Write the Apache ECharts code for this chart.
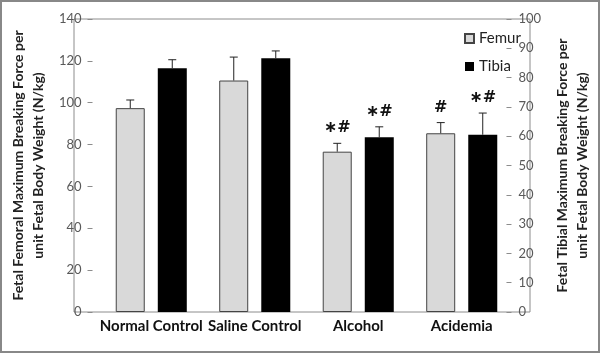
<!DOCTYPE html>
<html>
<head>
<meta charset="utf-8">
<script src="https://cdn.jsdelivr.net/npm/echarts@6/dist/echarts.min.js"></script>
<style>
  html, body { margin: 0; padding: 0; background: #fff; }
  #chart { width: 600px; height: 353px; }
</style>
</head>
<body>
<div id="chart"></div>
<script>
const categories = ['Normal Control', 'Saline Control', 'Alcohol', 'Acidemia']
// femur read on left axis, tibia on right axis (N/kg)
const femur = [97.4, 110.6, 76.6, 85.4]
const femurErr = [3.9, 11.2, 4.0, 5.1]
const tibia = [83.2, 86.6, 59.6, 60.5]
const tibiaErr = [2.9, 2.5, 3.6, 7.4]
const femurMarks = ['', '', '∗#', '#']
const tibiaMarks = ['', '', '∗#', '∗#']
const leftTicks = { min: 0, max: 140, interval: 20 }
const rightTicks = { min: 0, max: 100, interval: 10 }

const font = 'Lato, "Liberation Sans", sans-serif'
const BAR_W = 29
const SHIFT = 21

function errorSeries(name, values, errs, marks, axis, dx) {
  return {
    name: name,
    type: 'custom',
    yAxisIndex: axis,
    z: 3,
    data: values.map((v, i) => [i, v, errs[i]]),
    renderItem: function (params, api) {
      const i = api.value(0)
      const base = api.coord([i, api.value(1)])
      const top = api.coord([i, api.value(1) + api.value(2)])
      const x = base[0] + dx
      const mark = marks[i]
      const children = [
        { type: 'line', shape: { x1: x, y1: base[1], x2: x, y2: top[1] }, style: { stroke: '#222', lineWidth: 1 } },
        { type: 'line', shape: { x1: x - 4, y1: top[1], x2: x + 4, y2: top[1] }, style: { stroke: '#222', lineWidth: 1 } }
      ]
      if (mark) {
        children.push({
          type: 'text',
          style: {
            text: mark, x: x, y: top[1] - 7,
            textAlign: 'center', textVerticalAlign: 'bottom',
            font: 'bold 16px "DejaVu Sans", sans-serif', fill: '#111'
          }
        })
      }
      return { type: 'group', children: children }
    }
  }
}

const chart = echarts.init(document.getElementById('chart'))
chart.setOption({
  animation: false,
  textStyle: { fontFamily: font },
  graphic: [{
    type: 'rect', silent: true, z: 100,
    shape: { x: 1, y: 1, width: 598, height: 351 },
    style: { fill: 'none', stroke: '#888', lineWidth: 2 }
  }],
  grid: [
    { left: 81, right: 63, top: 19, bottom: 41 },
    { left: 74, right: 70, top: 19, bottom: 41, show: true, borderColor: '#8c8c8c', borderWidth: 1, backgroundColor: 'transparent' }
  ],
  legend: {
    data: ['Femur', 'Tibia'],
    orient: 'vertical',
    icon: 'rect',
    left: 459,
    top: 26,
    itemWidth: 9,
    itemHeight: 9,
    itemGap: 13,
    textStyle: { fontSize: 15, color: '#222', fontFamily: font }
  },
  xAxis: [
    {
      type: 'category',
      gridIndex: 0,
      data: categories,
      axisLine: { show: false },
      axisTick: { show: false },
      axisLabel: { interval: 0, fontSize: 15, fontWeight: 'bold', color: '#111', margin: 7 }
    },
    { type: 'category', gridIndex: 1, show: false, data: categories }
  ],
  yAxis: [
    {
      type: 'value',
      gridIndex: 0,
      position: 'left',
      offset: 7,
      min: leftTicks.min, max: leftTicks.max, interval: leftTicks.interval,
      splitLine: { show: false },
      axisLine: { show: false },
      axisTick: { show: true, length: 5, lineStyle: { color: '#8c8c8c' } },
      axisLabel: { fontSize: 13, color: '#595959', margin: 11 },
      name: 'Fetal Femoral Maximum Breaking Force per\nunit Fetal Body Weight (N/kg)',
      nameLocation: 'middle',
      nameRotate: 90,
      nameGap: 42,
      nameTextStyle: { fontSize: 14, fontWeight: 'bold', color: '#222', lineHeight: 20 }
    },
    {
      type: 'value',
      gridIndex: 0,
      position: 'right',
      offset: -7,
      min: rightTicks.min, max: rightTicks.max, interval: rightTicks.interval,
      splitLine: { show: false },
      axisLine: { show: false },
      axisTick: { show: true, length: 5, lineStyle: { color: '#8c8c8c' } },
      axisLabel: { fontSize: 13, color: '#595959', margin: 12 },
      name: 'Fetal Tibial Maximum Breaking Force per\nunit Fetal Body Weight (N/kg)',
      nameLocation: 'middle',
      nameRotate: 90,
      nameGap: 40,
      nameTextStyle: { fontSize: 14, fontWeight: 'bold', color: '#222', lineHeight: 20 }
    },
    { type: 'value', gridIndex: 1, show: false, splitLine: { show: false } }
  ],
  series: [
    {
      name: 'Femur',
      type: 'bar',
      yAxisIndex: 0,
      barWidth: BAR_W,
      barGap: '45%',
      itemStyle: { color: '#d9d9d9', borderColor: '#444', borderWidth: 1 },
      data: femur
    },
    {
      name: 'Tibia',
      type: 'bar',
      yAxisIndex: 1,
      barWidth: BAR_W,
      barGap: '45%',
      itemStyle: { color: '#000' },
      data: tibia
    },
    errorSeries('femurErr', femur, femurErr, femurMarks, 0, -SHIFT),
    errorSeries('tibiaErr', tibia, tibiaErr, tibiaMarks, 1, SHIFT)
  ]
})
</script>
</body>
</html>
